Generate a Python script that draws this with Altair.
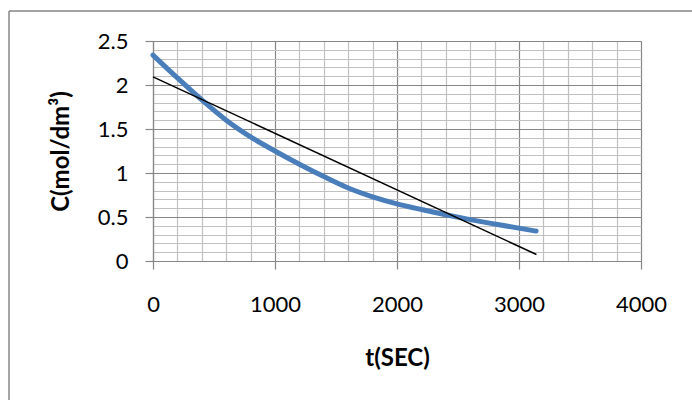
import altair as alt
import pandas as pd

# Data
t_sec = [0, 200, 400, 600, 800, 1000, 1200, 1400, 1600, 1800, 2000, 2200, 2400, 2600, 2800, 3140]
conc = [2.34, 2.08, 1.83, 1.60, 1.41, 1.25, 1.10, 0.96, 0.83, 0.73, 0.65, 0.585, 0.525, 0.47, 0.42, 0.34]
trend_t = [0, 3143]
trend_c = [2.093, 0.074]
x_ticks = list(range(0, 4001, 200))
y_ticks = [round(i * 0.1, 1) for i in range(26)]

curve = pd.DataFrame({"t": t_sec, "C": conc})
trend = pd.DataFrame({"t": trend_t, "C": trend_c})

MAJOR = "#868686"
MINOR = "#c0c0c0"
FONT = "Lato"

x_major = "datum.value % 1000 === 0"
y_major = "abs(datum.value * 2 - round(datum.value * 2)) < 0.001"

x_axis = alt.Axis(
    values=x_ticks, tickCount=100,
    labelExpr=f"{x_major} ? format(datum.value, 'd') : ''",
    labelFlush=False, labelOverlap=False, labelBound=False,
    grid=True,
    gridColor={"condition": {"test": x_major, "value": MAJOR}, "value": MINOR},
    gridWidth=1.2,
    tickColor=MAJOR, tickSize=8, tickWidth=1.2,
    tickOpacity={"condition": {"test": x_major, "value": 1}, "value": 0},
    domainColor=MAJOR, domainWidth=1.2,
    labelFont=FONT, labelFontSize=22, labelColor="black", labelPadding=25,
    title="t(SEC)", titleFont=FONT, titleFontSize=24, titleFontWeight="bold",
    titleColor="black", titleX=244, titleY=97, titleAlign="center",
    titleBaseline="middle", titleAnchor="middle",
)

y_axis = alt.Axis(
    values=y_ticks, tickCount=100,
    labelExpr=f"{y_major} ? format(datum.value, '~g') : ''",
    labelOverlap=False, labelFlush=False, labelBound=False,
    grid=True,
    gridColor={"condition": {"test": y_major, "value": MAJOR}, "value": MINOR},
    gridWidth=1.2,
    tickColor=MAJOR, tickSize=8, tickWidth=1.2,
    tickOpacity={"condition": {"test": y_major, "value": 1}, "value": 0},
    domainColor=MAJOR, domainWidth=1.2,
    labelFont=FONT, labelFontSize=22, labelColor="black", labelPadding=17,
    title="C(mol/dm³)", titleFont=FONT, titleFontSize=24, titleFontWeight="bold",
    titleColor="black", titleX=-92, titleY=110, titleAngle=270,
    titleAlign="center", titleBaseline="middle",
)

x_enc = alt.X("t:Q", scale=alt.Scale(domain=[0, 4000], nice=False), axis=x_axis)
y_enc = alt.Y("C:Q", scale=alt.Scale(domain=[0, 2.5], nice=False), axis=y_axis)

blue = alt.Chart(curve).mark_line(
    color="#4a7ebb", strokeWidth=5, interpolate="monotone", strokeCap="round"
).encode(x=x_enc, y=y_enc)

black = alt.Chart(trend).mark_line(color="black", strokeWidth=1.5).encode(
    x=alt.X("t:Q"), y=alt.Y("C:Q")
)

frame_data = alt.Data(values=[{}])
frame_top = alt.Chart(frame_data).mark_rule(color=MAJOR, strokeWidth=1.5).encode(
    x=alt.value(-144), x2=alt.value(560), y=alt.value(-30)
)
frame_left = alt.Chart(frame_data).mark_rule(color=MAJOR, strokeWidth=1.5).encode(
    x=alt.value(-144), y=alt.value(-30), y2=alt.value(400)
)

chart = alt.layer(blue, black, frame_top, frame_left).properties(
    width=488, height=220,
    autosize=alt.AutoSizeParams(type="none"),
    padding={"left": 153, "top": 41, "right": 51, "bottom": 139},
    background="white",
).configure_view(strokeWidth=0)

chart.save("out.html", embed_options={"renderer": "svg", "actions": False})
